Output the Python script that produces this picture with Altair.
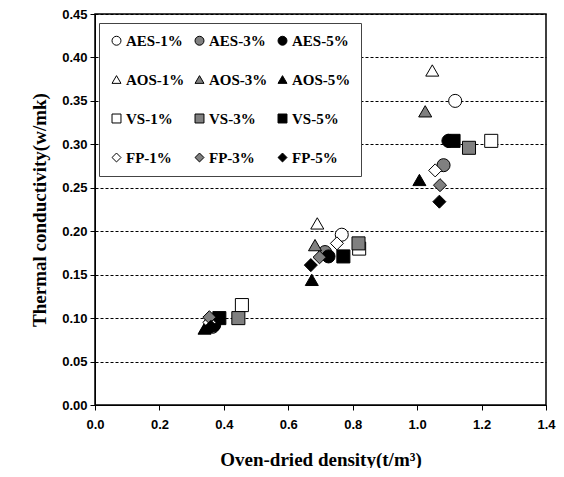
import altair as alt
import pandas as pd

series = ["AES-1%", "AES-3%", "AES-5%",
          "AOS-1%", "AOS-3%", "AOS-5%",
          "VS-1%", "VS-3%", "VS-5%",
          "FP-1%", "FP-3%", "FP-5%"]

density = {
    "AES-1%": [0.360, 0.766, 1.118],
    "AES-3%": [0.365, 0.714, 1.082],
    "AES-5%": [0.370, 0.725, 1.097],
    "AOS-1%": [0.350, 0.690, 1.047],
    "AOS-3%": [0.345, 0.683, 1.025],
    "AOS-5%": [0.340, 0.673, 1.007],
    "VS-1%": [0.456, 0.820, 1.230],
    "VS-3%": [0.445, 0.818, 1.161],
    "VS-5%": [0.386, 0.771, 1.113],
    "FP-1%": [0.355, 0.751, 1.056],
    "FP-3%": [0.355, 0.697, 1.071],
    "FP-5%": [0.360, 0.670, 1.069],
}

conductivity = {
    "AES-1%": [0.095, 0.196, 0.350],
    "AES-3%": [0.090, 0.176, 0.276],
    "AES-5%": [0.092, 0.171, 0.304],
    "AOS-1%": [0.092, 0.209, 0.385],
    "AOS-3%": [0.090, 0.184, 0.338],
    "AOS-5%": [0.088, 0.144, 0.259],
    "VS-1%": [0.115, 0.180, 0.304],
    "VS-3%": [0.100, 0.186, 0.296],
    "VS-5%": [0.100, 0.171, 0.304],
    "FP-1%": [0.095, 0.186, 0.270],
    "FP-3%": [0.101, 0.170, 0.253],
    "FP-5%": [0.090, 0.161, 0.234],
}

shapes = ["circle", "circle", "circle",
          "triangle-up", "triangle-up", "triangle-up",
          "square", "square", "square",
          "diamond", "diamond", "diamond"]
fills = ["white", "#808080", "black"] * 4
strokes = ["black"] * 12

x_ticks = [0.0, 0.2, 0.4, 0.6, 0.8, 1.0, 1.2, 1.4]
y_ticks = [0.00, 0.05, 0.10, 0.15, 0.20, 0.25, 0.30, 0.35, 0.40, 0.45]

rows = []
for i, s in enumerate(series):
    for xv, yv in zip(density[s], conductivity[s]):
        rows.append({"series": s, "order": i, "density": xv, "tc": yv})
df = pd.DataFrame(rows)

legend = alt.Legend(
    orient="none", legendX=4, legendY=9, columns=3, direction="horizontal",
    labelFont="Liberation Serif", labelFontWeight="bold", labelFontSize=15,
    labelColor="black", symbolSize=80, symbolStrokeColor="black",
    symbolStrokeWidth=1, rowPadding=23, columnPadding=7, padding=10,
    strokeColor="#444444", fillColor="white", labelOffset=2,
)

chart = alt.Chart(df).mark_point(
    filled=True, size=170, strokeWidth=1, opacity=1
).encode(
    x=alt.X("density:Q", scale=alt.Scale(domain=[0, 1.4], nice=False),
            axis=alt.Axis(values=x_ticks, format=".1f", grid=False,
                          labelFlush=False,
                          title="Oven-dried density(t/m³)")),
    y=alt.Y("tc:Q", scale=alt.Scale(domain=[0, 0.45], nice=False),
            axis=alt.Axis(values=y_ticks, format=".2f", grid=True,
                          labelFlush=False,
                          gridDash=[3, 2], gridColor="black", gridWidth=1,
                          title="Thermal conductivity(w/mk)")),
    shape=alt.Shape("series:N", scale=alt.Scale(domain=series, range=shapes),
                    title=None, legend=legend),
    fill=alt.Fill("series:N", scale=alt.Scale(domain=series, range=fills),
                  title=None, legend=legend),
    stroke=alt.Stroke("series:N", scale=alt.Scale(domain=series, range=strokes),
                      title=None, legend=legend),
    order=alt.Order("order:Q"),
).properties(
    width=451, height=391,
    autosize=alt.AutoSizeParams(type="none"),
    padding={"left": 87, "top": 6, "right": 10, "bottom": 63},
).configure_view(
    stroke="black", strokeWidth=1.5
).configure_axis(
    labelFont="Liberation Sans", labelFontWeight="bold", labelFontSize=13,
    labelColor="black", domainColor="black", tickColor="black", tickSize=5,
    titleFont="Liberation Serif", titleFontWeight="bold", titleFontSize=19,
    titleColor="black",
).configure_axisY(
    labelPadding=3, titlePadding=12,
).configure_axisX(
    labelPadding=8, titlePadding=19,
)

chart.save("out.html", embed_options={"renderer": "svg", "actions": False})
